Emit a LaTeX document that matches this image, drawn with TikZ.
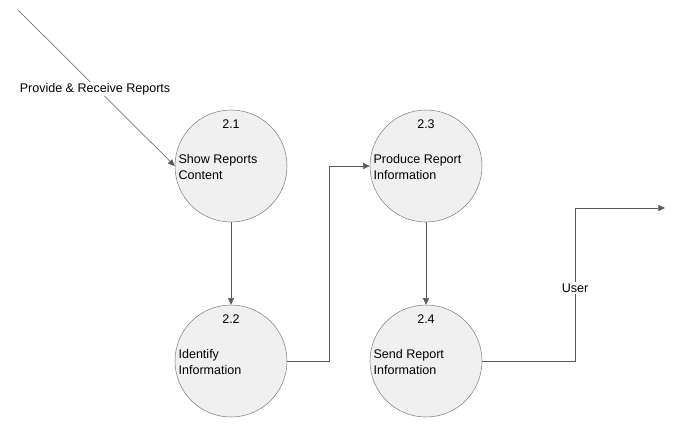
\documentclass[tikz,border=0pt]{standalone}
\usepackage{fontspec}
\setmainfont{Liberation Sans}
\usetikzlibrary{positioning, arrows.meta}

\definecolor{procfill}{HTML}{F0F0F0}
\definecolor{procline}{HTML}{808080}
\definecolor{flowline}{HTML}{595959}
\tikzset{
  proc/.style={circle, draw=procline, fill=procfill, minimum size=84pt, inner sep=0pt},
  num/.style={font=\fontsize{9.4}{12}\selectfont, inner sep=1pt},
  txt/.style={font=\fontsize{9.4}{12}\selectfont, align=left, anchor=west, inner sep=1pt},
  flow/.style={draw=flowline, -{Triangle[length=5pt,width=4.5pt]}},
  flowlbl/.style={font=\fontsize{9.4}{12}\selectfont, fill=white, inner sep=1pt},
}

\begin{document}
\begin{tikzpicture}[x=0.75pt, y=-0.75pt]
  \useasboundingbox (0,0) rectangle (685,435);
  % processes
  \node[proc] (p21) at (231,166) {};
  \node[proc] (p22) at (231,361) {};
  \node[proc] (p23) at (426,166) {};
  \node[proc] (p24) at (426,361) {};
  \node[num] (n21) at (231,124) {2.1};
  \node[num] (n22) at (231,319) {2.2};
  \node[num] (n23) at (426,124) {2.3};
  \node[num] (n24) at (426,319) {2.4};
  \node[txt] (t21) at (177,167) {Show Reports\\Content};
  \node[txt] (t22) at (177,362) {Identify\\Information};
  \node[txt] (t23) at (372,167) {Produce Report\\Information};
  \node[txt] (t24) at (372,362) {Send Report\\Information};
  % flows
  \coordinate (src) at (18,10);
  \coordinate (out) at (665,208);
  \coordinate (turn) at (575,208);
  \draw[flow] (src) -- (p21.west);
  \node[flowlbl] (l1) at (95,89) {Provide \& Receive Reports};
  \draw[flow] (p21) -- (p22);
  \draw[flow] (p22.east) -- ++(42,0) |- (p23.west);
  \draw[flow] (p23) -- (p24);
  \draw[flow] (p24.east) -| (turn) -- (out);
  \node[flowlbl] (l2) at (575,288) {User};
\end{tikzpicture}
\end{document}
